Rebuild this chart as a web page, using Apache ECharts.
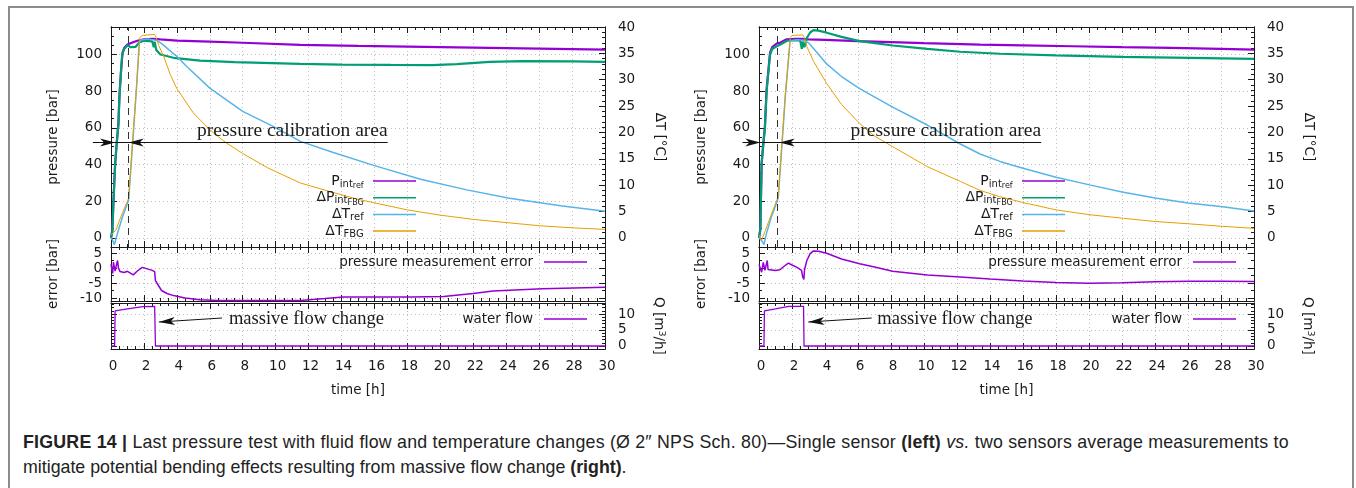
<!DOCTYPE html>
<html>
<head>
<meta charset="utf-8">
<script src="https://cdn.jsdelivr.net/npm/echarts@6/dist/echarts.min.js"></script>
<style>
html, body { margin: 0; padding: 0; background: #fff; }
#frame { position: absolute; left: 8px; top: 6px; width: 1342px; height: 500px; border: 2px solid #8c8c8c; }
#chart { position: absolute; left: 0; top: 0; width: 1356px; height: 400px; }
#caption { position: absolute; left: 23px; top: 430px; white-space: nowrap; font-family: "Liberation Sans", Arial, sans-serif; font-size: 17.8px; line-height: 25px; color: #222; }
#caption .l1 { letter-spacing: 0.22px; }
</style>
</head>
<body>
<div id="frame"></div>
<div id="chart"></div>
<div id="caption"><span class="l1"><b>FIGURE 14 |</b> Last pressure test with fluid flow and temperature changes (Ø 2″ NPS Sch. 80)—Single sensor <b>(left)</b> <i>vs.</i> two sensors average measurements to</span><br>mitigate potential bending effects resulting from massive flow change <b>(right)</b>.</div>
<script>
// ---------- data: left = single sensor, right = two sensors average ----------
// [time h, pressure bar]
var pRefL = [[0,0],[0.08,4],[0.15,20],[0.25,40],[0.35,52],[0.45,62],[0.5,75],[0.55,83],[0.62,92],[0.7,101],[0.8,103.5],[1.0,105.5],[1.3,106.5],[1.6,107.5],[2.0,108.3],[2.5,108.6],[3,108.2],[4,107.6],[6,107],[8,106.4],[11.5,105.3],[15,104.7],[18,104.3],[21,103.9],[24,103.5],[27,103.1],[30,102.7]];
var dPFbgL = [[0,0],[0.08,3],[0.15,20],[0.25,40],[0.35,52],[0.45,62],[0.52,78],[0.6,90],[0.68,100],[0.8,103],[1.0,105],[1.2,104],[1.5,104.2],[1.7,106.5],[2.0,107.5],[2.5,107.2],[2.6,104],[2.65,107],[2.75,102.5],[3.0,100],[3.8,98.2],[5.4,96.7],[7.5,95.8],[11.5,94.9],[14,94.5],[17,94.3],[19.5,94.2],[21,94.8],[23,96],[25,96.4],[28,96.2],[30,96]];
// [time h, deg C]
var dTRefL = [[0,0],[0.1,-0.5],[0.2,-1.3],[0.4,0.9],[0.7,4],[1.07,7.2],[1.35,19.5],[1.55,28.5],[1.72,37.2],[1.85,37.6],[2.3,37.7],[2.75,37.5],[3.1,36.8],[3.4,36],[4,34.4],[4.6,32.5],[6,28.4],[8,24],[10,20.9],[11.5,18.3],[13.5,16.2],[16,13.7],[18.8,11.1],[21.6,9.1],[24.2,7.5],[27.3,6.1],[30,5.05]];
var dTFbgL = [[0,0.5],[0.1,0.3],[0.3,1.5],[0.6,4],[1.07,7.5],[1.35,20],[1.6,31],[1.75,38],[1.9,38.4],[2.65,38.6],[2.75,38],[2.9,36.5],[3.2,34.4],[3.6,31],[4,28.3],[5,23.7],[6,20.5],[7,18],[8,16],[9.5,13.3],[11.5,10.4],[13.5,8.6],[15,7.3],[18,5.3],[20,4.3],[22,3.5],[24,2.9],[26,2.3],[28,1.9],[30,1.6]];
// [time h, error bar]
var errL = [[0,1.2],[0.05,1.5],[0.1,-1.8],[0.15,2],[0.2,0.3],[0.25,-1],[0.35,1.5],[0.4,2.5],[0.45,0],[0.55,-1.2],[0.8,-1.5],[1.0,-1.1],[1.2,-1.8],[1.35,-2.3],[1.6,-1],[1.9,0.2],[2.2,-0.3],[2.5,-0.8],[2.65,-1.2],[2.7,-4.2],[2.75,-3.8],[2.9,-6],[3.07,-7.5],[3.4,-8.5],[3.8,-9.2],[4.5,-10],[5.4,-10.6],[6.5,-10.8],[11.5,-10.8],[13,-10.2],[14.1,-9.7],[18.2,-9.7],[20.2,-9.5],[22,-8.5],[23.2,-7.7],[26.2,-6.9],[30,-6.4]];
// [time h, Q m3/h]
var flowL = [[0,0],[0.22,0],[0.25,11],[1.0,11.6],[1.94,12.3],[2.65,12.4],[2.7,0],[30,0]];

var pRefR = [[0,0],[0.08,5],[0.16,41],[0.25,50],[0.36,61],[0.46,81],[0.67,101],[0.8,104],[1.07,106],[1.3,106.5],[1.68,108.3],[2.2,108.6],[2.6,108.5],[3,108.3],[4,108],[6,107.3],[8,106.8],[10,106.2],[13.4,105.4],[16,105],[19,104.5],[22,104],[25,103.6],[28,103.1],[30,102.7]];
var dPFbgR = [[0,0],[0.08,4],[0.16,40],[0.25,50],[0.36,60],[0.46,80],[0.67,100],[0.8,103],[1.07,104.5],[1.3,105.5],[1.7,107.5],[2.2,107.8],[2.5,107.5],[2.6,103],[2.65,107],[2.75,104],[2.9,109],[3.1,112],[3.3,113.3],[3.6,113],[4.1,111.9],[5,109.6],[6.1,107.3],[8.1,104.9],[10.2,103.1],[12.2,101.5],[14.6,100.4],[18,99.5],[22,98.7],[26.1,98.2],[30,97.6]];
var dTRefR = [[0,0],[0.15,-0.5],[0.3,-1.3],[0.45,0.8],[0.75,4],[1.1,6.9],[1.17,7.8],[1.4,18],[1.6,27],[1.88,37.3],[2.3,37.6],[2.7,37.5],[3.0,37],[3.5,35.2],[4.1,33],[5,30.6],[6.1,28.3],[8.1,24.8],[10.2,21.4],[12.2,17.8],[13.4,15.9],[14.6,14.5],[16,13.2],[18,11.5],[20.1,10],[22,8.7],[24.1,7.5],[26,6.6],[28.1,5.9],[30,5.1]];
var dTFbgR = [[0,0.5],[0.16,-0.4],[0.4,1.5],[0.75,4.5],[1.1,7.3],[1.17,8],[1.4,18.5],[1.6,27.5],[1.9,38],[2.0,38.4],[2.65,38.5],[2.75,38],[2.9,36.3],[3.3,33.5],[4.1,29.3],[5,25.3],[6.1,21.7],[7,19.3],[8.1,17.3],[10.2,13.5],[12.2,10.7],[13.4,9],[14.6,7.8],[16,6.7],[18,5.3],[20,4.4],[22.1,3.7],[24,3.1],[26.1,2.65],[28,2.2],[30,1.8]];
var errR = [[0,1.2],[0.06,1.2],[0.16,-1.4],[0.26,1.9],[0.36,-0.8],[0.5,2.5],[0.55,-0.5],[0.67,-0.8],[1.0,-0.8],[1.27,-0.6],[1.5,0.5],[1.78,1.6],[2.0,1],[2.28,0.3],[2.58,-0.8],[2.65,-3],[2.72,-3.8],[2.76,-0.5],[2.9,2.5],[3.1,4.8],[3.3,5.7],[3.6,5.6],[4.1,4.9],[5,3],[6.1,1.4],[7,0.3],[8.1,-1.1],[10.2,-2.3],[12.2,-3],[14,-3.7],[16,-4.3],[18,-4.8],[20,-5.1],[22,-4.9],[24,-4.6],[26,-4.4],[28,-4.4],[30,-4.5]];
var flowR = [[0,0],[0.3,0],[0.33,11],[1.0,11.6],[1.8,12.4],[2.7,12.4],[2.73,0],[30,0]];

// ticks
var timeRange = [0, 30];
var pressRange = [-5, 115];
var pressTicks = [0, 20, 40, 60, 80, 100];
var dtRange = [-40 * 5 / 115, 40];
var dtTicks = [0, 5, 10, 15, 20, 25, 30, 35, 40];
var errRange = [-11, 7];
var errTicks = [-10, -5, 0, 5];
var flowRange = [-0.94, 13.44];
var flowTicks = [0, 5, 10];

// annotations (time h / pressure bar / Q)
var dashT = [1.07, 1.11];
var calibP = 52;
var calibSpan = [[-1.1, 16.8], [-1.0, 17.1]];
var calibTips = [[0.25, 1.07], [0.08, 1.25]];
var flowArrowTail = [[6.74, 8.75], [6.83, 8.75]];
var flowArrowTip = [[2.91, 7.5], [2.99, 7.5]];
var flowTextPos = [[7.16, 8.4], [7.17, 8.4]];

function steps(a, b, s) { var r = []; for (var v = a; v <= b + 1e-9; v += s) r.push(+v.toFixed(4)); return r; }

var FONT = '"DejaVu Sans", sans-serif';
var SERIF = '"Liberation Serif", serif';
var FS = 13.5;
var INK = '#1a1a1a';
var GRIDC = '#bdbdbd';
var COL = { pRef: '#9400d3', pFbg: '#009e73', tRef: '#56b4e9', tFbg: '#e69f00' };

var plotLeft = [111, 759], plotWidth = [494, 495];
var panels = [{ top: 27, height: 220 }, { top: 247, height: 54 }, { top: 303, height: 46 }];

var chart = echarts.init(document.getElementById('chart'));
var grids = [], xAxes = [], yAxes = [], series = [], refs = [];

function addAxis(kind, gi, pos, range, ticks, len, opt) {
  opt = opt || {};
  var a = {
    type: 'value', gridIndex: gi, position: pos, min: range[0], max: range[1],
    axisLine: { show: true, onZero: false, lineStyle: { color: INK, width: 1 } },
    axisTick: { show: true, inside: true, length: len, lineStyle: { color: INK, width: 1 } },
    axisLabel: { show: !!opt.labels, margin: opt.margin || 8, color: INK, fontFamily: FONT, fontSize: FS },
    splitLine: { show: !!opt.grid, lineStyle: { color: GRIDC, width: 1, type: [1, 3] } },
    name: opt.name || '', nameLocation: 'middle', nameGap: opt.nameGap || 0,
    nameTextStyle: { color: INK, fontFamily: FONT, fontSize: FS, lineHeight: 16 },
    silent: true
  };
  if (opt.labelPad) a.axisLabel.padding = opt.labelPad;
  if (opt.rich) a.nameTextStyle.rich = opt.rich;
  if (opt.nameRotate !== undefined) a.nameRotate = opt.nameRotate;
  if (ticks) { a.axisTick.customValues = ticks; a.axisLabel.customValues = ticks; }
  if (opt.interval) {
    a.interval = opt.interval;
    a.minorTick = { show: true, splitNumber: opt.minor, length: 3, lineStyle: { color: INK, width: 1 } };
  }
  var list = kind === 'x' ? xAxes : yAxes;
  list.push(a);
  return list.length - 1;
}

[0, 1].forEach(function (c) {
  var ref = {};
  panels.forEach(function (pn, p) {
    grids.push({ left: plotLeft[c], top: pn.top, width: plotWidth[c], height: pn.height });
    var gi = grids.length - 1;
    var xb = addAxis('x', gi, 'bottom', timeRange, null, 6, {
      interval: 2, minor: 4, grid: true, labels: p === 2, margin: 10, labelPad: [0, 0, 0, 4],
      name: p === 2 ? 'time [h]' : '', nameGap: 33
    });
    addAxis('x', gi, 'top', timeRange, null, 6, { interval: 2, minor: 4 });
    if (p === 0) {
      ref.x0 = xb;
      ref.p = addAxis('y', gi, 'left', pressRange, pressTicks, 6, { labels: true, grid: true, margin: 9, name: 'pressure [bar]', nameGap: 50 });
      addAxis('y', gi, 'left', pressRange, steps(-5, 115, 5), 3);
      ref.t = addAxis('y', gi, 'right', dtRange, dtTicks, 6, { labels: true, margin: 13, name: 'ΔT [°C]', nameGap: 46, nameRotate: -90 });
      addAxis('y', gi, 'right', dtRange, steps(-1, 40, 1), 3);
    } else if (p === 1) {
      ref.x1 = xb;
      ref.e = addAxis('y', gi, 'left', errRange, errTicks, 6, { labels: true, grid: true, margin: 9, name: 'error [bar]', nameGap: 50 });
      addAxis('y', gi, 'left', errRange, steps(-10, 5, 2.5), 3);
      addAxis('y', gi, 'right', errRange, errTicks, 6);
      addAxis('y', gi, 'right', errRange, steps(-10, 5, 2.5), 3);
    } else {
      ref.x2 = xb;
      addAxis('y', gi, 'left', flowRange, flowTicks, 6, { grid: true });
      addAxis('y', gi, 'left', flowRange, steps(0, 13, 1), 3);
      ref.q = addAxis('y', gi, 'right', flowRange, flowTicks, 6, {
        labels: true, margin: 13, name: 'Q [m{sup|3}/h]', nameGap: 45, nameRotate: -90,
        rich: { sup: { fontFamily: FONT, fontSize: 9.5, lineHeight: 9, verticalAlign: 'top', color: INK } }
      });
      addAxis('y', gi, 'right', flowRange, steps(0, 13, 1), 3);
    }
  });
  refs.push(ref);
});

function line(name, data, xi, yi, color, width, extra) {
  var s = {
    type: 'line', name: name, data: data, xAxisIndex: xi, yAxisIndex: yi,
    showSymbol: false, symbol: 'none', clip: true, silent: true, animation: false,
    lineStyle: { color: color, width: width }, itemStyle: { color: color }
  };
  for (var k in extra) s[k] = extra[k];
  series.push(s);
}

var sets = [
  { pRef: pRefL, pFbg: dPFbgL, tRef: dTRefL, tFbg: dTFbgL, err: errL, flow: flowL },
  { pRef: pRefR, pFbg: dPFbgR, tRef: dTRefR, tFbg: dTFbgR, err: errR, flow: flowR }
];
sets.forEach(function (d, c) {
  var r = refs[c];
  line('pRef', d.pRef, r.x0, r.p, COL.pRef, 2.2, {
    markLine: {
      silent: true, animation: false, symbol: ['none', 'none'], label: { show: false },
      lineStyle: { color: '#333', width: 1, type: [7, 5] },
      data: [{ xAxis: dashT[c] }]
    }
  });
  line('pFbg', d.pFbg, r.x0, r.p, COL.pFbg, 2.2);
  line('tRef', d.tRef, r.x0, r.t, COL.tRef, 1.5);
  line('tFbg', d.tFbg, r.x0, r.t, COL.tFbg, 1);
  line('err', d.err, r.x1, r.e, COL.pRef, 1.5);
  line('flow', d.flow, r.x2, r.q, COL.pRef, 1.3);
});

// legend labels with (nested) subscripts
var rich = {
  a: { fontFamily: FONT, fontSize: 14, lineHeight: 14, verticalAlign: 'top', color: INK },
  b: { fontFamily: FONT, fontSize: 10, lineHeight: 10, verticalAlign: 'top', padding: [5, 0, 0, 0], color: INK },
  c: { fontFamily: FONT, fontSize: 8, lineHeight: 8, verticalAlign: 'top', padding: [8, 0, 0, 0], color: INK },
  s: { fontSize: 1, lineHeight: 1, verticalAlign: 'top', padding: [15, 0, 0, 0] }
};
var legendText = {
  pRef: '{a|P}{b|int}{c|ref}{s| }',
  pFbg: '{a|ΔP}{b|int}{c|FBG}{s| }',
  tRef: '{a|ΔT}{b|ref}{s| }',
  tFbg: '{a|ΔT}{b|FBG}{s| }',
  err: 'pressure measurement error',
  flow: 'water flow'
};
function legend(names, right, top, pad, gap) {
  return {
    data: names, orient: 'vertical', align: 'right', right: right, top: top, padding: 0,
    itemGap: gap, itemWidth: 43, itemHeight: 1.5, icon: 'rect', selectedMode: false,
    formatter: function (n) { return legendText[n]; },
    textStyle: { color: INK, fontFamily: FONT, fontSize: FS, lineHeight: 16, padding: [0, pad, 0, 0], rich: rich }
  };
}
var topNames = ['pRef', 'pFbg', 'tRef', 'tFbg'];

chart.setOption({
  animation: false,
  textStyle: { fontFamily: FONT, fontSize: FS },
  grid: grids,
  xAxis: xAxes,
  yAxis: yAxes,
  legend: [
    legend(topNames, 1356 - 416, 174, 4, 0.7),
    legend(topNames, 1356 - 1065, 174, 4, 0.7),
    legend(['err'], 1356 - 587, 254, 6, 0),
    legend(['err'], 1356 - 1236, 254, 6, 0),
    legend(['flow'], 1356 - 587, 311, 6, 0),
    legend(['flow'], 1356 - 1236, 311, 6, 0)
  ],
  series: series
});

// annotations placed through the axes' own scales
function px(c, panel, t, v) {
  var r = refs[c];
  var f = panel === 'p' ? { xAxisIndex: r.x0, yAxisIndex: r.p } : { xAxisIndex: r.x2, yAxisIndex: r.q };
  return chart.convertToPixel(f, [t, v]);
}
function head(tip, from, len, hw, notch) {
  var dx = from[0] - tip[0], dy = from[1] - tip[1], d = Math.sqrt(dx * dx + dy * dy);
  dx /= d; dy /= d;
  var nx = -dy, ny = dx;
  return {
    type: 'polygon', silent: true, z: 20,
    shape: { points: [tip, [tip[0] + dx * len + nx * hw, tip[1] + dy * len + ny * hw], [tip[0] + dx * notch, tip[1] + dy * notch], [tip[0] + dx * len - nx * hw, tip[1] + dy * len - ny * hw]] },
    style: { fill: '#111' }
  };
}
var g = [];
[0, 1].forEach(function (c) {
  var a = px(c, 'p', calibSpan[c][0], calibP), b = px(c, 'p', calibSpan[c][1], calibP);
  var t1 = px(c, 'p', calibTips[c][0], calibP), t2 = px(c, 'p', calibTips[c][1], calibP);
  g.push({ type: 'line', silent: true, z: 20, shape: { x1: a[0], y1: a[1], x2: b[0], y2: b[1] }, style: { stroke: '#111', lineWidth: 1.2 } });
  g.push(head(t1, a, 15, 4, 11));
  g.push(head(t2, b, 15, 4, 11));
  g.push({ type: 'text', silent: true, z: 20, x: b[0], y: b[1] - 2,
    style: { text: 'pressure calibration area', fill: INK, fontFamily: SERIF, fontSize: 19.5, align: 'right', verticalAlign: 'bottom', textAlign: 'right', textVerticalAlign: 'bottom' } });
  var ft = px(c, 'q', flowArrowTail[c][0], flowArrowTail[c][1]), fh = px(c, 'q', flowArrowTip[c][0], flowArrowTip[c][1]);
  g.push({ type: 'line', silent: true, z: 20, shape: { x1: ft[0], y1: ft[1], x2: fh[0], y2: fh[1] }, style: { stroke: '#111', lineWidth: 1 } });
  g.push(head(fh, ft, 16, 4, 12));
  var tp = px(c, 'q', flowTextPos[c][0], flowTextPos[c][1]);
  g.push({ type: 'text', silent: true, z: 20, x: tp[0], y: tp[1],
    style: { text: 'massive flow change', fill: INK, fontFamily: SERIF, fontSize: 18.5, align: 'left', verticalAlign: 'middle', textAlign: 'left', textVerticalAlign: 'middle' } });
});
chart.setOption({ graphic: g });
</script>
</body>
</html>
